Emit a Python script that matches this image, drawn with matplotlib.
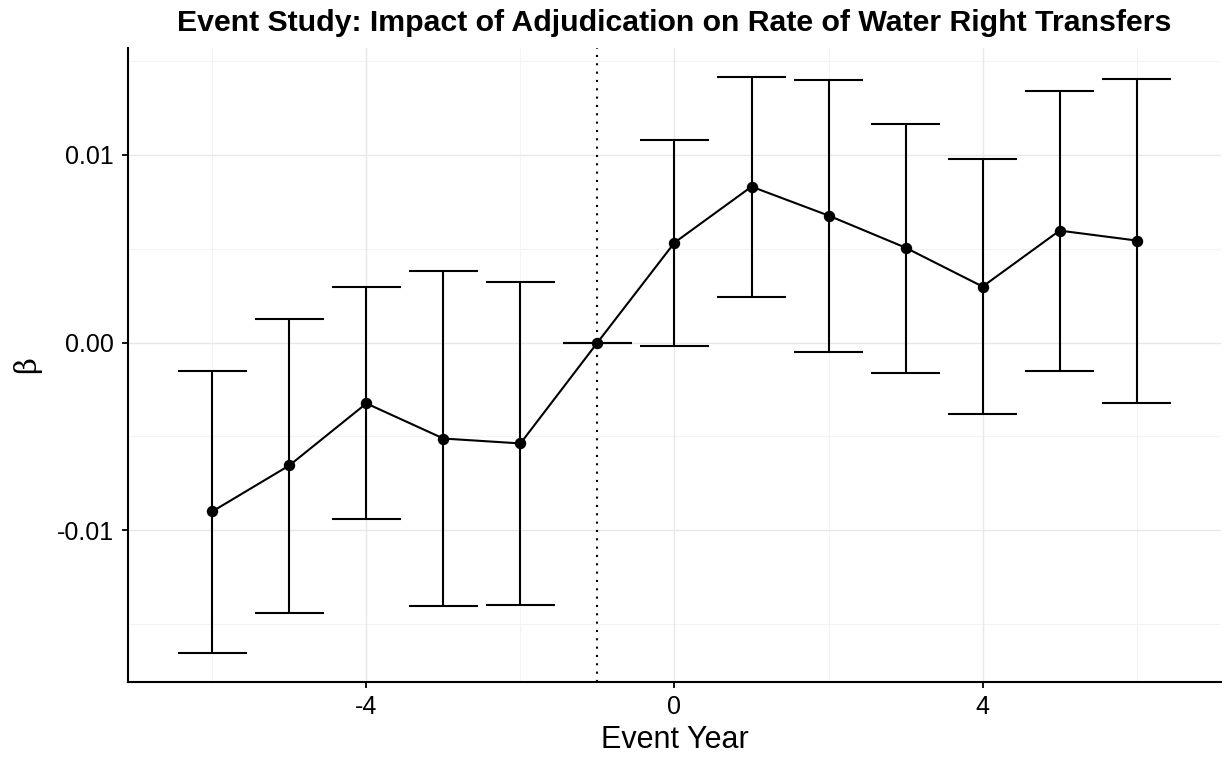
import matplotlib
matplotlib.use("Agg")
import matplotlib.pyplot as plt
from matplotlib.ticker import FixedLocator

event_year = [-6, -5, -4, -3, -2, -1, 0, 1, 2, 3, 4, 5, 6]
beta = [-0.00899, -0.00654, -0.00324, -0.00511, -0.00537, 0.0,
        0.00532, 0.00830, 0.00676, 0.00505, 0.00298, 0.00596, 0.00543]
ci_upper = [-0.00149, 0.00128, 0.00298, 0.00383, 0.00324, 0.0,
            0.01080, 0.01415, 0.01399, 0.01165, 0.00979, 0.01340, 0.01404]
ci_lower = [-0.01654, -0.01441, -0.00941, -0.01404, -0.01399, 0.0,
            -0.00016, 0.00245, -0.00048, -0.00160, -0.00378, -0.00149, -0.00324]
x_ticks = [-4, 0, 4]
x_tick_labels = ["-4", "0", "4"]
y_ticks = [-0.01, 0.0, 0.01]
y_tick_labels = ["-0.01", "0.00", "0.01"]

plt.rcParams['font.family'] = ['Liberation Sans', 'DejaVu Sans']

fig = plt.figure(figsize=(12.25, 7.57), dpi=100)
ax = fig.add_axes([128/1225, 1-682/757, (1221-128)/1225, (682-48)/757])

# grid
for xv in [-6, -2, 2, 6]:
    ax.axvline(xv, color="#f3f3f3", lw=0.8, zorder=0)
for yv in [-0.015, -0.005, 0.005, 0.015]:
    ax.axhline(yv, color="#f3f3f3", lw=0.8, zorder=0)
for xv in x_ticks:
    ax.axvline(xv, color="#e8e8e8", lw=1.0, zorder=0)
for yv in y_ticks:
    ax.axhline(yv, color="#e8e8e8", lw=1.0, zorder=0)

ax.axvline(-1, color="black", lw=1.5, linestyle=(0, (1, 3)), zorder=1)

# error bars
half = 0.45
for xv, lo, hi in zip(event_year, ci_lower, ci_upper):
    ax.plot([xv, xv], [lo, hi], color="black", lw=1.5, solid_capstyle="butt", zorder=2)
    ax.plot([xv - half, xv + half], [lo, lo], color="black", lw=1.5, solid_capstyle="butt", zorder=2)
    ax.plot([xv - half, xv + half], [hi, hi], color="black", lw=1.5, solid_capstyle="butt", zorder=2)

ax.plot(event_year, beta, color="black", lw=1.5, zorder=3)
ax.scatter(event_year, beta, color="black", s=52, zorder=4)

ax.set_xlim(-7.095, 7.095)
ax.set_ylim(-0.01807, 0.01568)
ax.xaxis.set_major_locator(FixedLocator(x_ticks))
ax.set_xticklabels(x_tick_labels)
ax.yaxis.set_major_locator(FixedLocator(y_ticks))
ax.set_yticklabels(y_tick_labels)
ax.tick_params(axis="both", length=4.5, width=1.3, color="black", labelsize=18, labelcolor="black")
ax.tick_params(axis="y", pad=5.5)
ax.tick_params(axis="x", pad=4.5)

for s in ["top", "right"]:
    ax.spines[s].set_visible(False)
for s in ["left", "bottom"]:
    ax.spines[s].set_linewidth(1.5)
    ax.spines[s].set_color("black")

ax.set_xlabel("Event Year", fontsize=22, labelpad=5)
ax.set_ylabel("β", fontsize=21, family=["DejaVu Serif"], labelpad=11.5)
ax.set_title("Event Study: Impact of Adjudication on Rate of Water Right Transfers",
             fontsize=21.8, fontweight="bold", pad=12)

fig.savefig("out.png", dpi=100)
